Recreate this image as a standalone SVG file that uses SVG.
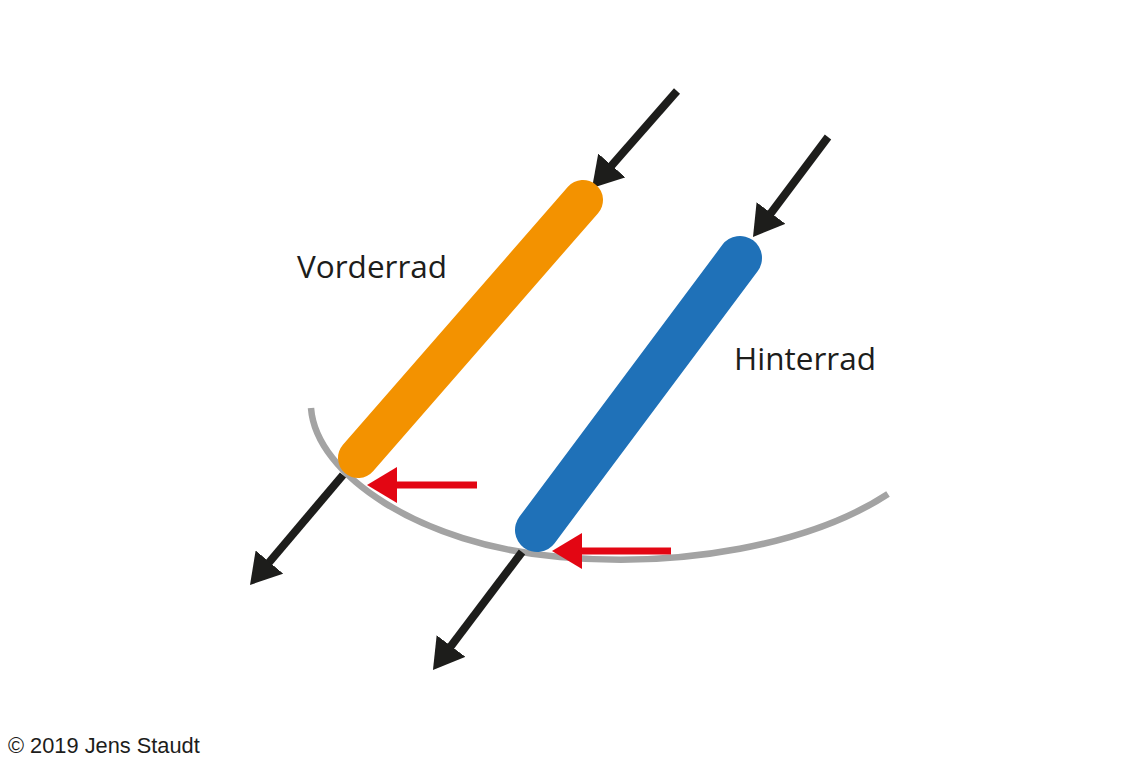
<svg xmlns="http://www.w3.org/2000/svg" width="1140" height="760" viewBox="0 0 1140 760">
  <style>
    .arc { fill: none; stroke: #a3a3a3; stroke-width: 6.5; }
    .force { stroke: #1d1d1b; stroke-width: 8; fill: none; marker-end: url(#blackHead); }
    .brake { stroke: #e30613; stroke-width: 7; fill: none; marker-end: url(#redHead); }
    .bar { fill: none; stroke-linecap: round; }
    .label { font-family: "Open Sans", "Liberation Sans", sans-serif; font-size: 31.5px; fill: #1d1d1b; }
    .copy { font-family: "Liberation Sans", Arial, sans-serif; font-size: 21.8px; fill: #1d1d1b; }
  </style>
  <defs>
    <marker id="blackHead" viewBox="0 0 30 36" refX="15" refY="18" markerWidth="30" markerHeight="36" markerUnits="userSpaceOnUse" orient="auto">
      <path d="M0,0 L30,18 L0,36 z" fill="#1d1d1b"/>
    </marker>
    <marker id="redHead" viewBox="0 0 30 36" refX="15" refY="18" markerWidth="30" markerHeight="36" markerUnits="userSpaceOnUse" orient="auto">
      <path d="M0,0 L30,18 L0,36 z" fill="#e30613"/>
    </marker>
  </defs>
  <rect width="1140" height="760" fill="#ffffff"/>

  <g id="ground">
    <path class="arc" d="M311,408 C316,475 420,545 560,557 C680,568 810,545 888,494"/>
  </g>

  <g id="connectors">
    <line class="force" x1="677" y1="91" x2="601.9" y2="176.7"/>
    <line class="force" x1="828" y1="137" x2="762" y2="225"/>
    <line class="force" x1="343" y1="475" x2="259.7" y2="573.5"/>
    <line class="force" x1="522" y1="552" x2="442" y2="658"/>
  </g>

  <g id="vorderrad">
    <line class="bar" x1="358" y1="458" x2="583" y2="200" stroke="#f39200" stroke-width="40"/>
    <text class="label" x="297" y="278">Vorderrad</text>
  </g>

  <g id="hinterrad">
    <line class="bar" x1="537" y1="530" x2="740" y2="258" stroke="#1f71b8" stroke-width="44"/>
    <text class="label" x="734" y="370">Hinterrad</text>
  </g>

  <g id="brake-forces">
    <line class="brake" x1="477" y1="485" x2="382" y2="485"/>
    <line class="brake" x1="671" y1="551" x2="567" y2="551"/>
  </g>

  <text class="copy" x="8" y="753">© 2019 Jens Staudt</text>
</svg>
